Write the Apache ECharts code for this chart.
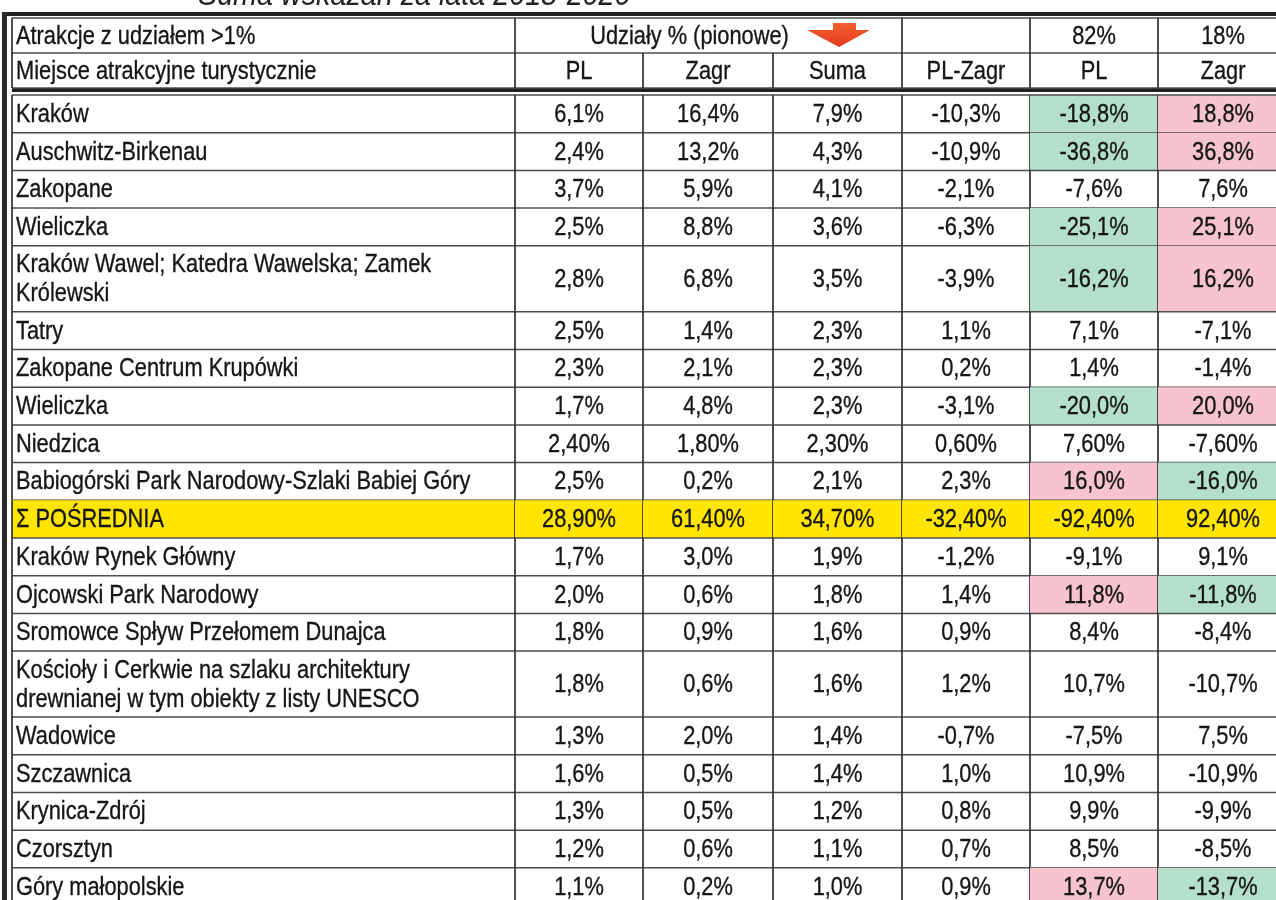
<!DOCTYPE html>
<html><head><meta charset="utf-8">
<script src="https://cdn.jsdelivr.net/npm/echarts@6/dist/echarts.min.js"></script>
<style>html,body{margin:0;padding:0;background:#fff}#chart{width:1276px;height:900px}</style>
</head><body><div id="chart"></div>
<script>
// ---------- data ----------
const titleText = 'Suma wskazań za lata 2018-2020';
const headerTop = ['Atrakcje z udziałem >1%', 'Udziały % (pionowe)', '', '82%', '18%'];
const headerCols = ['Miejsce atrakcyjne turystycznie', 'PL', 'Zagr', 'Suma', 'PL-Zagr', 'PL', 'Zagr'];
const attractions = [
  'Kraków', 'Auschwitz-Birkenau', 'Zakopane', 'Wieliczka',
  'Kraków Wawel; Katedra Wawelska; Zamek\nKrólewski', 'Tatry', 'Zakopane Centrum Krupówki',
  'Wieliczka', 'Niedzica', 'Babiogórski Park Narodowy-Szlaki Babiej Góry', 'Σ POŚREDNIA',
  'Kraków Rynek Główny', 'Ojcowski Park Narodowy', 'Sromowce Spływ Przełomem Dunajca',
  'Kościoły i Cerkwie na szlaku architektury\ndrewnianej w tym obiekty z listy UNESCO',
  'Wadowice', 'Szczawnica', 'Krynica-Zdrój', 'Czorsztyn', 'Góry małopolskie'
];
const sharePL   = [6.1, 2.4, 3.7, 2.5, 2.8, 2.5, 2.3, 1.7, 2.40, 2.5, 28.90, 1.7, 2.0, 1.8, 1.8, 1.3, 1.6, 1.3, 1.2, 1.1];
const shareZagr = [16.4, 13.2, 5.9, 8.8, 6.8, 1.4, 2.1, 4.8, 1.80, 0.2, 61.40, 3.0, 0.6, 0.9, 0.6, 2.0, 0.5, 0.5, 0.6, 0.2];
const shareSuma = [7.9, 4.3, 4.1, 3.6, 3.5, 2.3, 2.3, 2.3, 2.30, 2.1, 34.70, 1.9, 1.8, 1.6, 1.6, 1.4, 1.4, 1.2, 1.1, 1.0];
const diffPLZagr = [-10.3, -10.9, -2.1, -6.3, -3.9, 1.1, 0.2, -3.1, 0.60, 2.3, -32.40, -1.2, 1.4, 0.9, 1.2, -0.7, 1.0, 0.8, 0.7, 0.9];
const indexPL   = [-18.8, -36.8, -7.6, -25.1, -16.2, 7.1, 1.4, -20.0, 7.60, 16.0, -92.40, -9.1, 11.8, 8.4, 10.7, -7.5, 10.9, 9.9, 8.5, 13.7];
const indexZagr = [18.8, 36.8, 7.6, 25.1, 16.2, -7.1, -1.4, 20.0, -7.60, -16.0, 92.40, 9.1, -11.8, -8.4, -10.7, 7.5, -10.9, -9.9, -8.5, -13.7];
const decimals  = [1, 1, 1, 1, 1, 1, 1, 1, 2, 1, 2, 1, 1, 1, 1, 1, 1, 1, 1, 1];
const summaryIndex = 10;
const highlightThreshold = 11.5;

// ---------- layout / style ----------
const FONT = '"Liberation Sans", Arial, sans-serif';
const FS = 25.5, SX = 0.855;
const colEdges = [0, 503, 631, 761, 890, 1018, 1146, 1276];
const headH = 35, headGap = 7, rowH = 37.7, extraLine = 0.75;
const C_GREEN = '#b4dfca', C_PINK = '#f6c3cf', C_YELLOW = '#ffe500';
const C_TEXT = '#161616', C_HLINE = '#4d4d4d', C_VLINE = '#222';

function fmt(v, d) { return v.toFixed(d).replace('.', ',') + '%'; }

// build cells
const cells = [];
headerTop.forEach((t, i) => {
  const spans = [[0,1],[1,4],[4,5],[5,6],[6,7]][i];
  cells.push({c0: spans[0], c1: spans[1], y0: 0, y1: headH, text: t, align: i === 0 ? 'left' : 'center', dx: i === 1 ? -19 : 0, top: true});
});
headerCols.forEach((t, i) => {
  cells.push({c0: i, c1: i + 1, y0: headH, y1: 2 * headH, text: t, align: i === 0 ? 'left' : 'center'});
});
let yCur = 2 * headH + headGap;
attractions.forEach((name, r) => {
  const lines = name.split('\n').length;
  const h = rowH * (1 + extraLine * (lines - 1));
  const isSum = r === summaryIndex;
  const vals = [sharePL[r], shareZagr[r], shareSuma[r], diffPLZagr[r], indexPL[r], indexZagr[r]];
  cells.push({c0: 0, c1: 1, y0: yCur, y1: yCur + h, text: name, align: 'left', fill: isSum ? C_YELLOW : null, top: r === 0});
  vals.forEach((v, k) => {
    let fill = isSum ? C_YELLOW : null;
    if (!isSum && k >= 4 && Math.abs(v) >= highlightThreshold) fill = v < 0 ? C_GREEN : C_PINK;
    cells.push({c0: k + 1, c1: k + 2, y0: yCur, y1: yCur + h, text: fmt(v, decimals[r]), align: 'center', fill, top: r === 0});
  });
  yCur += h;
});

function renderItem(params, api) {
  const c = cells[params.dataIndex];
  const p0 = api.coord([colEdges[c.c0], c.y0]);
  const p1 = api.coord([colEdges[c.c1], c.y1]);
  const x = p0[0], y = p0[1], w = p1[0] - p0[0], h = p1[1] - p0[1];
  const ch = [];
  if (c.fill) ch.push({type: 'rect', shape: {x, y, width: w, height: h}, style: {fill: c.fill}});
  ch.push({type: 'line', shape: {x1: x, y1: y + h, x2: x + w, y2: y + h}, style: {stroke: C_HLINE, lineWidth: 1.5}});
  if (c.top) ch.push({type: 'line', shape: {x1: x, y1: y, x2: x + w, y2: y}, style: {stroke: C_HLINE, lineWidth: 1.5}});
  ch.push({type: 'line', shape: {x1: x + w, y1: y, x2: x + w, y2: y + h}, style: {stroke: C_VLINE, lineWidth: 1.6}});
  if (c.c0 === 0) ch.push({type: 'line', shape: {x1: x, y1: y, x2: x, y2: y + h}, style: {stroke: C_VLINE, lineWidth: 1.6}});
  const tx = c.align === 'left' ? x + 4 : x + w / 2 + (c.dx || 0);
  ch.push({type: 'text', x: tx, y: y + h / 2 + 1, scaleX: SX, scaleY: 1,
    style: {text: c.text, fontFamily: FONT, fontSize: FS, fill: C_TEXT, stroke: C_TEXT, lineWidth: 0.35,
      align: c.align, verticalAlign: 'middle', lineHeight: 29}});
  return {type: 'group', children: ch};
}

const chart = echarts.init(document.getElementById('chart'), null, {renderer: 'canvas'});
chart.setOption({
  animation: false,
  backgroundColor: '#fff',
  grid: {left: 12, top: 18, width: 1264, height: 882, outerBoundsMode: 'none', containLabel: false},
  xAxis: {type: 'value', min: 0, max: 1264, show: false},
  yAxis: {type: 'value', min: 0, max: 882, inverse: true, show: false},
  series: [{
    type: 'custom',
    renderItem,
    clip: false,
    encode: {x: 0, y: 1},
    data: cells.map(c => [Math.min((colEdges[c.c0] + colEdges[c.c1]) / 2, 1264), Math.min((c.y0 + c.y1) / 2, 882)])
  }],
  graphic: [
    {type: 'text', x: 198, y: -4.5, scaleX: 0.87, style: {text: titleText, fontFamily: FONT, fontSize: 33, fontStyle: 'italic', fill: '#222', verticalAlign: 'middle'}},
    {type: 'rect', shape: {x: 2, y: 12, width: 1300, height: 4}, style: {fill: '#222'}},
    {type: 'rect', shape: {x: 2, y: 12, width: 5, height: 900}, style: {fill: '#2a2a2a'}},
    {type: 'rect', shape: {x: 12, y: 88, width: 1300, height: 4}, style: {fill: '#222'}},
    {type: 'polygon', shape: {points: [[833, 23], [856, 23], [856, 30], [870, 30], [839, 47], [807, 30], [833, 30]]},
      style: {fill: {type: 'linear', x: 0, y: 0, x2: 0, y2: 1, colorStops: [{offset: 0, color: '#f6602e'}, {offset: 1, color: '#e23a1f'}]}}}
  ]
});
</script></body></html>
